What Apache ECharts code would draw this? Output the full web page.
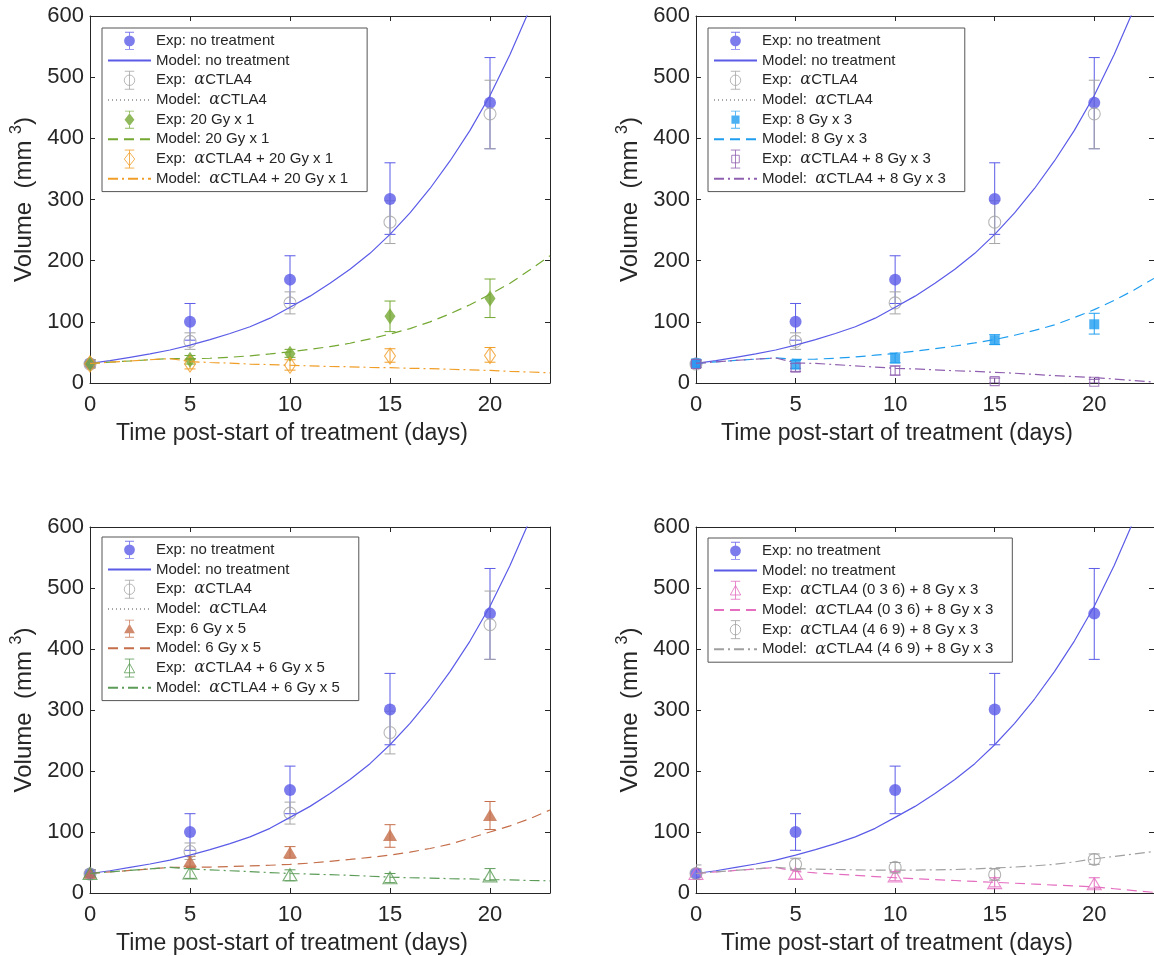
<!DOCTYPE html>
<html><head><meta charset="utf-8">
<script src="https://cdn.jsdelivr.net/npm/echarts@6/dist/echarts.min.js"></script>
<style>html,body{margin:0;padding:0;background:#fff}#c{width:1154px;height:956px}</style>
</head><body><div id="c"></div>
<script>
// ---------- data ----------
const expT = [0, 5, 10, 15, 20];
const modelT = [0,1,2,3,4,5,6,7,8,9,10,11,12,13,14,15,16,17,18,19,20,21,22,23];
const xTicks = [0, 5, 10, 15, 20];
const yTicks = [0, 100, 200, 300, 400, 500, 600];

const noTreatMean = [32, 100, 169, 301, 458];
const noTreatLo   = [26, 70, 130, 243, 383];
const noTreatHi   = [38, 130, 208, 360, 532];
const noTreatModel = [32, 36.5, 42, 47.5, 54, 62, 71, 81, 92, 106, 124, 142, 163, 186, 212, 243, 278, 318, 363, 413, 470, 537, 612, 700];

const ctlaMean = [31, 68, 131, 263, 440];
const ctlaLo   = [25, 55, 113, 228, 383];
const ctlaHi   = [37, 82, 149, 298, 495];
const ctlaModel = [];

const gy20Mean = [32, 38, 48, 109, 138];
const gy20Lo   = [26, 31, 42, 84, 107];
const gy20Hi   = [38, 45, 55, 134, 170];
const gy20Model = [32, 34, 36, 38, 40, 39.5, 40.5, 42, 44.5, 47.5, 51, 55, 59.5, 65, 72, 80, 89, 100, 113, 128, 145, 163, 185, 208];

const combo20Mean = [31, 31, 29, 44, 45];
const combo20Lo   = [24, 23, 21, 34, 34];
const combo20Hi   = [38, 39, 38, 56, 58];
const combo20Model = [32, 34, 36, 38, 40, 35, 33.5, 32.5, 31, 30, 29, 28, 27, 26.5, 25.5, 25, 24, 23.5, 22.5, 21.5, 20.5, 19, 18, 16.5];

const gy8Mean = [32, 30, 40, 70, 96];
const gy8Lo   = [26, 24, 33, 63, 80];
const gy8Hi   = [38, 37, 49, 79, 114];
const gy8Model = [32, 34.5, 37, 39, 41, 38.5, 39, 40.5, 42.5, 45.5, 48.5, 52, 56, 60.5, 65.5, 71, 78, 86, 95, 107, 120, 135, 152, 171];

const combo8Mean = [31, 25, 20, 3, 2];
const combo8Lo   = [25, 19, 13, 0, 0];
const combo8Hi   = [37, 32, 28, 8, 6];
const combo8Model = [32, 34.5, 37, 39, 41, 33, 32, 30, 28, 26, 24, 23, 21.5, 20, 19, 17.5, 16, 14, 12, 10.5, 9, 6.5, 4, 1.5];

const gy6Mean = [33, 52, 67, 95, 128];
const gy6Lo   = [28, 44, 57, 75, 104];
const gy6Hi   = [38, 60, 76, 112, 150];
const gy6Model = [32, 34.5, 37, 39.5, 42, 42, 42.5, 43.5, 44.5, 45.5, 47, 49, 52, 55, 58.5, 62, 67, 73, 80, 90, 100, 110, 122, 136];

const combo6Mean = [32, 33, 30, 25, 28];
const combo6Lo   = [26, 24, 20, 17, 20];
const combo6Hi   = [38, 40, 38, 32, 40];
const combo6Model = [32, 34.5, 37, 39.5, 42, 39.5, 38, 36.5, 35, 33.5, 32, 31, 30, 29, 27.5, 26, 25, 24.5, 23.5, 23, 22, 21.5, 20.5, 20];

const c036Mean = [32, 32, 28, 17, 15];
const c036Lo   = [25, 23, 20, 10, 8];
const c036Hi   = [40, 38, 35, 25, 25];
const c036Model = [32, 34.5, 37, 39.5, 42, 35.5, 33, 31, 29, 27, 25, 23.5, 22, 20.5, 19, 17.5, 16, 14.5, 13, 11.5, 10, 7, 4, 1];

const c469Mean = [32, 47, 42, 30, 55];
const c469Lo   = [22, 38, 33, 21, 47];
const c469Hi   = [46, 57, 50, 40, 64];
const c469Model = [32, 34.5, 37, 39.5, 42, 40, 39, 38.5, 38, 37.5, 37.5, 37.5, 38, 38.5, 39.5, 41, 42.5, 44.5, 47, 51, 56, 60, 64, 68];

// ---------- styles ----------
const FONT = '"Liberation Sans", Arial, Helvetica, sans-serif';
const AX = '#262626';
const C = {
  blue: '#5b5be8', gray: '#a6a6a6', green: '#74a832', orange: '#f09e28',
  cyan: '#1f9ef0', purple: '#9060b0', brown: '#c46e4a', green2: '#5c9c58',
  pink: '#e46ec0', gray2: '#a0a0a0'
};
const DASH = [10, 6], DASHDOT = [10, 4, 2, 4], DOT = [1, 3];

const ICON = {
  circF: 'path://M1.5,0H11.5V1H1.5Z M6,1H7V4H6Z M6,16H7V19H6Z M1.5,19H11.5V20H1.5Z M0.5,10A6,6 0 1 1 12.5,10A6,6 0 1 1 0.5,10Z',
  circH: 'path://M1.5,0.5H11.5M6.5,0.5V19.5M1.5,19.5H11.5M1,10A5.5,5.5 0 1 1 12,10A5.5,5.5 0 1 1 1,10Z',
  diaF: 'path://M1.5,0H11.5V1H1.5Z M6,1H7V3H6Z M6,17H7V19H6Z M1.5,19H11.5V20H1.5Z M6.5,3L12,10L6.5,17L1,10Z',
  diaH: 'path://M1.5,0.5H11.5M6.5,0.5V19.5M1.5,19.5H11.5M6.5,3L12,10L6.5,17L1,10Z',
  sqF: 'path://M1.5,0H11.5V1H1.5Z M6,1H7V5.5H6Z M6,14.5H7V19H6Z M1.5,19H11.5V20H1.5Z M2,5.5H11V14.5H2Z',
  sqH: 'path://M1.5,0.5H11.5M6.5,0.5V19.5M1.5,19.5H11.5M2.5,6H10.5V14H2.5Z',
  triF: 'path://M1.5,0H11.5V1H1.5Z M6,1H7V4.5H6Z M6,15H7V19H6Z M1.5,19H11.5V20H1.5Z M6.5,4.5L12.5,15L0.5,15Z',
  triH: 'path://M1.5,0.5H11.5M6.5,0.5V19.5M1.5,19.5H11.5M6.5,5L12,15L1,15Z'
};

// ---------- helpers ----------
const pts = (t, v) => t.map((x, i) => [x, v[i]]).filter(p => p[1] !== undefined);
const eb = (lo, hi) => expT.map((x, i) => [x, lo[i], hi[i]]);

function errSeries(g, lo, hi, color) {
  return {
    type: 'custom', name: '_eb', xAxisIndex: g, yAxisIndex: g, silent: true,
    data: eb(lo, hi), encode: { x: 0, y: [1, 2] }, clip: true,
    renderItem: function (params, api) {
      const x = api.value(0), a = api.coord([x, api.value(1)]), b = api.coord([x, api.value(2)]);
      const w = 5.5, st = { stroke: color, lineWidth: 1 };
      return { type: 'group', children: [
        { type: 'line', shape: { x1: a[0], y1: a[1], x2: b[0], y2: b[1] }, style: st },
        { type: 'line', shape: { x1: a[0] - w, y1: a[1], x2: a[0] + w, y2: a[1] }, style: st },
        { type: 'line', shape: { x1: b[0] - w, y1: b[1], x2: b[0] + w, y2: b[1] }, style: st }
      ]};
    }
  };
}
function expSeries(g, name, mean, color, symbol, size, hollow) {
  return {
    type: 'scatter', name, xAxisIndex: g, yAxisIndex: g, data: pts(expT, mean),
    symbol, symbolSize: size, clip: false,
    itemStyle: hollow ? { color: 'rgba(0,0,0,0)', borderColor: color, borderWidth: 1.1 }
                      : { color: color, borderWidth: 0 }
  };
}
function modelSeries(g, name, vals, color, type) {
  return {
    type: 'line', name, xAxisIndex: g, yAxisIndex: g, data: pts(modelT, vals),
    symbol: 'none', showSymbol: false, clip: true,
    lineStyle: { color, width: 1.2, type }, itemStyle: { color }
  };
}
function legItem(name, icon, color, hollow) {
  return { name, icon: ICON[icon],
    itemStyle: hollow ? { color: 'rgba(0,0,0,0)', borderColor: color, borderWidth: 1 }
                      : { color: color, borderWidth: 0 } };
}
function legLine(name) {
  return { name, itemStyle: { color: 'rgba(0,0,0,0)', borderColor: 'rgba(0,0,0,0)', borderWidth: 0, opacity: 0 } };
}

// ---------- panels ----------
const panels = [
  { left: 90, top: 16, height: 367, legLeft: 102, legTop: 28,
    treat: ['20 Gy x 1', gy20Mean, gy20Lo, gy20Hi, gy20Model, C.green, 'diamond', [11, 16], 'diaF', DASH],
    combo: ['αCTLA4 + 20 Gy x 1', combo20Mean, combo20Lo, combo20Hi, combo20Model, C.orange, 'diamond', [11, 16], 'diaH', DASHDOT] },
  { left: 696, top: 16, height: 367, legLeft: 708, legTop: 28,
    treat: ['8 Gy x 3', gy8Mean, gy8Lo, gy8Hi, gy8Model, C.cyan, 'rect', [10, 10], 'sqF', DASH],
    combo: ['αCTLA4 + 8 Gy x 3', combo8Mean, combo8Lo, combo8Hi, combo8Model, C.purple, 'rect', [9, 9], 'sqH', DASHDOT] },
  { left: 90, top: 527, height: 366, legLeft: 102, legTop: 537,
    treat: ['6 Gy x 5', gy6Mean, gy6Lo, gy6Hi, gy6Model, C.brown, 'triangle', [14, 12], 'triF', DASH],
    combo: ['αCTLA4 + 6 Gy x 5', combo6Mean, combo6Lo, combo6Hi, combo6Model, C.green2, 'triangle', [14, 12], 'triH', DASHDOT] },
  { left: 696, top: 527, height: 366, legLeft: 708, legTop: 538, noCtla: true,
    treat: ['αCTLA4 (0 3 6) + 8 Gy x 3', c036Mean, c036Lo, c036Hi, c036Model, C.pink, 'triangle', [14, 12], 'triH', DASH],
    combo: ['αCTLA4 (4 6 9) + 8 Gy x 3', c469Mean, c469Lo, c469Hi, c469Model, C.gray2, 'circle', 12, 'circH', DASHDOT] }
];

const grids = [], xAxes = [], yAxes = [], series = [], legends = [];
const xMirror = [], yMirror = [];
const lab = { fontSize: 22, color: AX, fontFamily: FONT };
const lineSt = { color: AX, width: 1 };

panels.forEach((p, g) => {
  grids.push({ left: p.left, top: p.top, width: 460, height: p.height });
  xAxes.push({ gridIndex: g, type: 'value', min: xTicks[0], max: 23, interval: xTicks[1] - xTicks[0],
    axisLine: { show: true, onZero: false, lineStyle: lineSt },
    axisTick: { show: true, inside: true, length: 5, lineStyle: lineSt },
    axisLabel: Object.assign({ margin: 11, showMaxLabel: false }, lab),
    splitLine: { show: false },
    name: 'Time post-start of treatment (days)', nameLocation: 'middle', nameGap: 39,
    nameTextStyle: { fontSize: 23, color: AX, fontFamily: FONT, padding: [0, 56, 0, 0] } });
  xMirror.push({ gridIndex: g, type: 'value', position: 'top', min: xTicks[0], max: 23, interval: xTicks[1] - xTicks[0],
    axisLine: { show: true, onZero: false, lineStyle: lineSt },
    axisTick: { show: true, inside: true, length: 5, lineStyle: lineSt },
    axisLabel: { show: false }, splitLine: { show: false } });
  yAxes.push({ gridIndex: g, type: 'value', min: yTicks[0], max: yTicks[yTicks.length - 1], interval: yTicks[1] - yTicks[0],
    axisLine: { show: true, onZero: false, lineStyle: lineSt },
    axisTick: { show: true, inside: true, length: 5, lineStyle: lineSt },
    axisLabel: Object.assign({ margin: 6 }, lab),
    splitLine: { show: false },
    name: 'Volume  (mm {s|3})', nameLocation: 'middle', nameGap: 51, nameRotate: 90,
    nameTextStyle: { fontSize: 24, color: AX, fontFamily: FONT,
      rich: { s: { fontSize: 16, color: AX, fontFamily: FONT, padding: [0, 0, 14, 0] } } } });
  yMirror.push({ gridIndex: g, type: 'value', position: 'right', min: yTicks[0], max: yTicks[yTicks.length - 1], interval: yTicks[1] - yTicks[0],
    axisLine: { show: true, onZero: false, lineStyle: lineSt },
    axisTick: { show: true, inside: true, length: 5, lineStyle: lineSt },
    axisLabel: { show: false }, splitLine: { show: false } });

  const legData = [];
  series.push(errSeries(g, noTreatLo, noTreatHi, C.blue));
  series.push(expSeries(g, 'Exp: no treatment', noTreatMean, C.blue, 'circle', 12, false));
  series.push(modelSeries(g, 'Model: no treatment', noTreatModel, C.blue, 'solid'));
  legData.push(legItem('Exp: no treatment', 'circF', C.blue, false), legLine('Model: no treatment'));
  if (!p.noCtla) {
    series.push(errSeries(g, ctlaLo, ctlaHi, C.gray));
    series.push(expSeries(g, 'Exp:  αCTLA4', ctlaMean, C.gray, 'circle', 12, true));
    series.push(modelSeries(g, 'Model:  αCTLA4', ctlaModel, C.gray, DOT));
    legData.push(legItem('Exp:  αCTLA4', 'circH', C.gray, true), legLine('Model:  αCTLA4'));
  }
  [p.treat, p.combo].forEach(s => {
    const [nm, mean, lo, hi, model, color, sym, size, icon, dash] = s;
    const hollow = icon.endsWith('H');
    const pre = nm.startsWith('α') ? '  ' : ' ';
    series.push(errSeries(g, lo, hi, color));
    series.push(expSeries(g, 'Exp:' + pre + nm, mean, color, sym, size, hollow));
    series.push(modelSeries(g, 'Model:' + pre + nm, model, color, dash));
    legData.push(legItem('Exp:' + pre + nm, icon, color, hollow), legLine('Model:' + pre + nm));
  });

  legends.push({
    orient: 'vertical', left: p.legLeft, top: p.legTop, padding: [3, 19, 3, 5],
    itemWidth: 43, itemHeight: 18, itemGap: 0, backgroundColor: '#fff',
    borderColor: '#555', borderWidth: 1, borderRadius: 0, selectedMode: false,
    textStyle: { fontSize: 15, color: AX, fontFamily: FONT, lineHeight: 19.7,
      rich: { a: { fontSize: 16, fontStyle: 'italic', fontFamily: '"DejaVu Serif", serif', color: AX, lineHeight: 19.7 } } },
    formatter: n => n.replace('α', '{a|α}'),
    data: legData
  });
});

const chart = echarts.init(document.getElementById('c'), null, { renderer: 'canvas' });
chart.setOption({
  animation: false,
  backgroundColor: '#fff',
  grid: grids,
  xAxis: xAxes.concat(xMirror),
  yAxis: yAxes.concat(yMirror),
  legend: legends,
  series: series
});
</script></body></html>
